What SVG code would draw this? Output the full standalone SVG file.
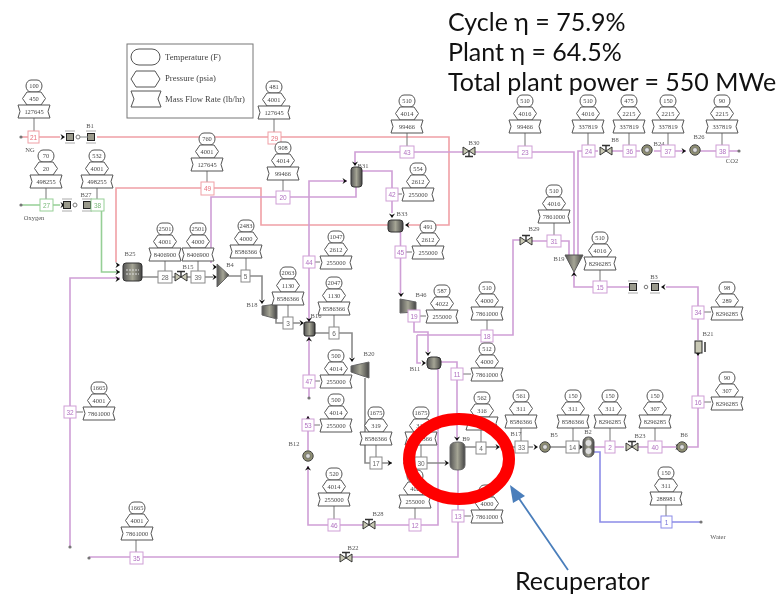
<svg xmlns="http://www.w3.org/2000/svg" width="782" height="596" viewBox="0 0 782 596">
<style>
text{font-family:"Liberation Serif",serif}
.v{font-size:6.4px;fill:#444;text-anchor:middle}
.l{font-size:6.5px;fill:#555;text-anchor:middle}
.sh{fill:#fff;stroke:#555;stroke-width:1}
.tg{fill:#fff;stroke-width:1}
.tk{font-size:6.5px;text-anchor:middle;font-family:"Liberation Sans",sans-serif}
.c{fill:none;stroke-width:1.6}
.red{stroke:#f0a0a6}.pur{stroke:#cf9fd6}.grn{stroke:#96cf96}.gry{stroke:#8a8a8a}.blu{stroke:#8c8ce8}
.st{fill:none;stroke:#777;stroke-width:1}
.big{font-family:Lato,"Open Sans",sans-serif;font-size:25px;fill:#111}
.lg{font-size:8.6px;fill:#444}
</style>
<defs>
<filter id="b" x="0" y="0" width="782" height="596" filterUnits="userSpaceOnUse"><feGaussianBlur stdDeviation="0.45"/></filter>
<linearGradient id="m"><stop offset="0" stop-color="#555"/><stop offset=".5" stop-color="#a5a595"/><stop offset="1" stop-color="#444"/></linearGradient>
<path id="t" class="sh" d="M-3,0H3A5,6 0 0 1 3,12H-3A5,6 0 0 1 -3,0Z"/>
<path id="p" class="sh" d="M-7,12H7L11.500,18.500L7,25H-7L-11.500,18.500Z"/>
<path id="f" class="sh" d="M-16,25H16L14,31.500L16,38H-16L-14,31.500Z"/>
<path id="a" fill="#111" d="M-4.500,-3L0,0L-4.500,3L-3,0Z"/>
<circle id="d" r="1.600" fill="#777"/>
<g id="bx"><rect x="-3.500" y="-3.500" width="7" height="7" fill="#9a9a8c" stroke="#222"/><path d="M-5,-6H5M-5,6H5" stroke="#aaa"/></g>
<g id="vv"><path d="M-6,-4V4L0,0ZM6,-4V4L0,0Z" fill="#c8c8b4" stroke="#222" stroke-width=".9"/><path d="M0,0V-5M-4,-5.500H4" stroke="#333" stroke-width="1.400"/></g>
<g id="cc"><circle r="5.200" fill="#8e8e72" stroke="#444"/><circle r="2.400" fill="#ddd" stroke="#555" stroke-width=".6"/></g>
</defs>

<g filter="url(#b)">
<g id="legend">
<rect x="127" y="44" width="126" height="74" fill="#fff" stroke="#777"/>
<path class="sh" d="M139,49H152A8,8 0 0 1 152,65H139A8,8 0 0 1 139,49Z"/>
<path class="sh" d="M136,71H155L160,79L155,87H136L131,79Z"/>
<path class="sh" d="M131,91H161L158,99L161,107H131L134,99Z"/>
<text class="lg" x="165" y="60">Temperature (F)</text>
<text class="lg" x="165" y="81">Pressure (psia)</text>
<text class="lg" x="165" y="102">Mass Flow Rate (lb/hr)</text>
</g>

<g id="connectors">
<path class="c red" d="M21,137H60M97,137H449V225H407M390,225H261V188H116V262"/>
<path class="c grn" d="M21,205H60M92,205H101.500V272H120"/>
<path class="c pur" d="M463,152H355V165M475,152H574V256M578,256V151H598M612,151H640M654,151H686M700,151H739M356,187V197H211V263M347,181H309V322M362,171H392V213M400.500,231V296M414,312V332H428V352M417,335V363H421M417,335H513V240H520M532,241H569V255M574,272V287H630M666,287H698V340M698,355V447H688M594,447H624M638,447H676M441,362H457V440M458,470V557H352M340,557H89M438,369V525H376M363,525H308V466M308,450V416M309,398V337M70,547V278H120"/>
<path class="c blu" d="M594,452H600V522H700"/>
<path class="c gry" d="M142,277H178M184,277H213M228,276H262V300M276,316V323H300M315,333H352V358M365,378V463H392M403,463H446M465,447H497M503,447H533M550,447H582"/>
<path class="st" d="M34,118V131M46,188V199M97,188V199M207,171V182M165,261V271M198,261V271M246,258V270M288,305V317M334,315V327M315,262H320M315,381H320M314,425H320M334,506V519M376,445V457M421,445V457M415,508V519M481,430V442M521,428V441M463,374H471M487,320V330M420,316H426M398,194H402M406,252H412M407,133V146M283,180V191M274,119V132M525,133V146M588,133V145M629,133V145M668,133V145M722,133V145M554,223V235M600,270V281M704,312H711M704,402H711M573,428V441M610,428V441M655,428V441M666,505V516M76,412H83M136,540V552M464,516H471"/>
</g>

<g id="arrowheads">
<use href="#a" transform="translate(65,137)"/><use href="#a" transform="translate(65,205)"/>
<use href="#a" transform="translate(120,265)"/><use href="#a" transform="translate(120,272)"/><use href="#a" transform="translate(120,279)"/>
<use href="#a" transform="translate(217,267)"/><use href="#a" transform="translate(217,277)"/>
<use href="#a" transform="translate(262,304) rotate(90)"/><use href="#a" transform="translate(304,323)"/>
<use href="#a" transform="translate(309,322) rotate(90)"/><use href="#a" transform="translate(309,337) rotate(-90)"/>
<use href="#a" transform="translate(352,362) rotate(90)"/><use href="#a" transform="translate(347,181)"/><use href="#a" transform="translate(355,166) rotate(90)"/>
<use href="#a" transform="translate(392,218) rotate(90)"/><use href="#a" transform="translate(405,225) rotate(180)"/>
<use href="#a" transform="translate(401,297) rotate(90)"/><use href="#a" transform="translate(428,356) rotate(90)"/><use href="#a" transform="translate(426,363)"/>
<use href="#a" transform="translate(457,441) rotate(90)"/><use href="#a" transform="translate(449,463)"/>
<use href="#a" transform="translate(392,463)"/><use href="#a" transform="translate(500,447)"/>
<use href="#a" transform="translate(538,447)"/><use href="#a" transform="translate(583,447)"/>
<use href="#a" transform="translate(680,447)"/><use href="#a" transform="translate(574,272) rotate(-90)"/>
<use href="#a" transform="translate(698,356) rotate(90)"/><use href="#a" transform="translate(308,466) rotate(-90)"/>
<use href="#a" transform="translate(308,416) rotate(-90)"/><use href="#a" transform="translate(686,151)"/>
<use href="#d" x="21" y="137"/><use href="#d" x="21" y="205"/><use href="#d" x="739" y="151"/><use href="#d" x="70" y="547"/><use href="#d" x="89" y="558"/><use href="#d" x="309" y="398"/><use href="#d" x="701" y="522"/>
</g>

<g id="B1"><use href="#bx" x="70" y="137"/><circle cx="78" cy="137" r="2" fill="#fff" stroke="#777"/><use href="#bx" x="91" y="137"/><path d="M80,137H88" stroke="#888"/><text class="l" x="90" y="128">B1</text></g>
<g id="B27"><use href="#bx" x="67" y="205"/><circle cx="75" cy="205" r="2" fill="#fff" stroke="#777"/><use href="#bx" x="87" y="205"/><text class="l" x="86" y="197">B27</text></g>
<g id="B25"><rect x="123" y="263" width="19" height="18" rx="3" fill="url(#m)" stroke="#333"/><path d="M126,270H139M126,274H139" stroke="#ddd" stroke-dasharray="2 1"/><text class="l" x="130" y="256">B25</text></g>
<g id="B15"><use href="#vv" x="181" y="277"/><text class="l" x="188" y="269">B15</text></g>
<g id="B4"><path d="M217,264L229,275L217,287Z" fill="url(#m)" stroke="#666"/><text class="l" x="230" y="267">B4</text></g>
<g id="B18"><path d="M262,306L277,304V319L262,315Z" fill="url(#m)" stroke="#666"/><text class="l" x="252" y="307">B18</text></g>
<g id="B16"><rect x="304" y="322" width="11" height="14" rx="2" fill="url(#m)" stroke="#222"/><text class="l" x="316" y="318">B16</text></g>
<g id="B20"><path d="M351,366L369,362V378L351,372Z" fill="url(#m)" stroke="#666"/><text class="l" x="369" y="356">B20</text></g>
<g id="B12"><use href="#cc" x="308" y="456"/><text class="l" x="294" y="446">B12</text></g>
<g id="B28"><use href="#vv" x="369" y="525"/><text class="l" x="378" y="516">B28</text></g>
<g id="B22"><use href="#vv" x="346" y="558"/><text class="l" x="353" y="550">B22</text></g>
<g id="B31"><rect x="351" y="167" width="11" height="20" rx="3" fill="url(#m)" stroke="#333"/><text class="l" x="363" y="168">B31</text></g>
<g id="B33"><rect x="388" y="220" width="15" height="12" rx="3" fill="url(#m)" stroke="#333"/><text class="l" x="402" y="216">B33</text></g>
<g id="B30"><use href="#vv" x="469" y="151" transform="rotate(180 469 151)"/><text class="l" x="474" y="145">B30</text></g>
<g id="B46"><path d="M400,299L416,302V312L400,313Z" fill="url(#m)" stroke="#666"/><text class="l" x="421" y="297">B46</text></g>
<g id="B11"><rect x="427" y="357" width="14" height="12" rx="4" fill="url(#m)" stroke="#333"/><text class="l" x="415" y="371">B11</text></g>
<g id="B9"><path d="M450,447Q450,442 458,442Q465,442 465,447V465Q465,470 458,470Q450,470 450,465Z" fill="url(#m)" stroke="#666"/><text class="l" x="466" y="441">B9</text></g>
<g id="B29"><use href="#vv" x="526" y="241"/><text class="l" x="534" y="231">B29</text></g>
<g id="B19"><path d="M565,255H583L574,272Z" fill="url(#m)" stroke="#555"/><text class="l" x="559" y="261">B19</text></g>
<g id="B8"><use href="#vv" x="606" y="151"/><text class="l" x="615" y="142">B8</text></g>
<g id="B24"><use href="#cc" x="647" y="150"/><text class="l" x="659" y="146">B24</text></g>
<g id="B26"><use href="#cc" x="695" y="150"/><text class="l" x="699" y="139">B26</text></g>
<g id="B3"><use href="#bx" x="633" y="287"/><circle cx="646" cy="287" r="1.800" fill="#fff" stroke="#777"/><use href="#bx" x="655" y="287"/><use href="#a" transform="translate(661,287) rotate(180)"/><text class="l" x="654" y="279">B3</text></g>
<g id="B21"><rect x="695" y="341" width="7" height="12" fill="#c8c8b4" stroke="#222"/><path d="M705,342V352" stroke="#222" stroke-width="1.400"/><text class="l" x="708" y="336">B21</text></g>
<g id="B17"><text class="l" x="516" y="436">B17</text></g>
<g id="B5"><use href="#cc" x="545" y="447"/><text class="l" x="554" y="437">B5</text></g>
<g id="B2"><rect x="583" y="437" width="11" height="20" rx="5" fill="url(#m)" stroke="#555"/><circle cx="588.500" cy="443" r="3" fill="#ddd"/><circle cx="588.500" cy="451" r="3" fill="#ddd"/><text class="l" x="588" y="434">B2</text></g>
<g id="B23"><use href="#vv" x="632" y="447"/><text class="l" x="640" y="438">B23</text></g>
<g id="B6"><use href="#cc" x="682" y="447"/><text class="l" x="684" y="437">B6</text></g>

<g id="tags">
<g class="red-tags" fill="#e8707c">
<g id="t21"><rect class="tg red" x="28" y="131" width="11" height="12"/><text class="tk" x="33.500" y="139.500">21</text></g>
<g id="t29"><rect class="tg red" x="268" y="132" width="13" height="12"/><text class="tk" x="274.500" y="140.500">29</text></g>
<g id="t49"><rect class="tg red" x="201" y="182" width="13" height="13"/><text class="tk" x="207.500" y="191">49</text></g>
</g>
<g fill="#79b979">
<g id="t27"><rect class="tg grn" x="40" y="199" width="13" height="12"/><text class="tk" x="46.500" y="207.500">27</text></g>
<g id="t38a"><rect class="tg grn" x="91" y="199" width="13" height="12"/><text class="tk" x="97.500" y="207.500">38</text></g>
</g>
<g fill="#b070c0">
<g id="t20"><rect class="tg pur" x="276" y="191" width="14" height="13"/><text class="tk" x="283" y="200">20</text></g>
<g id="t43"><rect class="tg pur" x="400" y="146" width="14" height="12"/><text class="tk" x="407" y="154.500">43</text></g>
<g id="t42"><rect class="tg pur" x="386" y="188" width="12" height="13"/><text class="tk" x="392" y="197">42</text></g>
<g id="t45"><rect class="tg pur" x="395" y="246" width="11" height="12"/><text class="tk" x="400.500" y="254.500">45</text></g>
<g id="t44"><rect class="tg pur" x="303" y="256" width="12" height="12"/><text class="tk" x="309" y="264.500">44</text></g>
<g id="t47"><rect class="tg pur" x="303" y="375" width="12" height="13"/><text class="tk" x="309" y="384">47</text></g>
<g id="t53"><rect class="tg pur" x="302" y="419" width="12" height="12"/><text class="tk" x="308" y="427.500">53</text></g>
<g id="t46"><rect class="tg pur" x="328" y="519" width="12" height="12"/><text class="tk" x="334" y="527.500">46</text></g>
<g id="t12"><rect class="tg pur" x="409" y="519" width="12" height="12"/><text class="tk" x="415" y="527.500">12</text></g>
<g id="t19"><rect class="tg pur" x="408" y="310" width="12" height="12"/><text class="tk" x="414" y="318.500">19</text></g>
<g id="t18"><rect class="tg pur" x="481" y="330" width="12" height="12"/><text class="tk" x="487" y="338.500">18</text></g>
<g id="t11"><rect class="tg pur" x="451" y="368" width="12" height="12"/><text class="tk" x="457" y="376.500">11</text></g>
<g id="t13"><rect class="tg pur" x="452" y="510" width="12" height="12"/><text class="tk" x="458" y="518.500">13</text></g>
<g id="t32"><rect class="tg pur" x="64" y="406" width="12" height="12"/><text class="tk" x="70" y="414.500">32</text></g>
<g id="t35"><rect class="tg pur" x="130" y="552" width="13" height="12"/><text class="tk" x="136.500" y="560.500">35</text></g>
<g id="t23"><rect class="tg pur" x="518" y="146" width="14" height="12"/><text class="tk" x="525" y="154.500">23</text></g>
<g id="t24"><rect class="tg pur" x="582" y="145" width="13" height="12"/><text class="tk" x="588.500" y="153.500">24</text></g>
<g id="t36"><rect class="tg pur" x="623" y="145" width="13" height="12"/><text class="tk" x="629.500" y="153.500">36</text></g>
<g id="t37"><rect class="tg pur" x="661" y="145" width="14" height="12"/><text class="tk" x="668" y="153.500">37</text></g>
<g id="t38"><rect class="tg pur" x="716" y="145" width="13" height="12"/><text class="tk" x="722.500" y="153.500">38</text></g>
<g id="t31"><rect class="tg pur" x="547" y="235" width="14" height="12"/><text class="tk" x="554" y="243.500">31</text></g>
<g id="t15"><rect class="tg pur" x="593" y="281" width="14" height="12"/><text class="tk" x="600" y="289.500">15</text></g>
<g id="t34"><rect class="tg pur" x="692" y="306" width="12" height="13"/><text class="tk" x="698" y="315">34</text></g>
<g id="t16"><rect class="tg pur" x="692" y="396" width="12" height="12"/><text class="tk" x="698" y="404.500">16</text></g>
<g id="t2"><rect class="tg pur" x="605" y="441" width="10" height="12"/><text class="tk" x="610" y="449.500">2</text></g>
<g id="t40"><rect class="tg pur" x="648" y="441" width="14" height="12"/><text class="tk" x="655" y="449.500">40</text></g>
</g>
<g fill="#666">
<g id="t28"><rect class="tg gry" x="158" y="271" width="14" height="12"/><text class="tk" x="165" y="279.500">28</text></g>
<g id="t39"><rect class="tg gry" x="191" y="271" width="14" height="12"/><text class="tk" x="198" y="279.500">39</text></g>
<g id="t5"><rect class="tg gry" x="241" y="270" width="9" height="12"/><text class="tk" x="245.500" y="278.500">5</text></g>
<g id="t3"><rect class="tg gry" x="283" y="317" width="10" height="12"/><text class="tk" x="288" y="325.500">3</text></g>
<g id="t6"><rect class="tg gry" x="329" y="327" width="10" height="12"/><text class="tk" x="334" y="335.500">6</text></g>
<g id="t17"><rect class="tg gry" x="370" y="457" width="12" height="12"/><text class="tk" x="376" y="465.500">17</text></g>
<g id="t30"><rect class="tg gry" x="415" y="457" width="12" height="12"/><text class="tk" x="421" y="465.500">30</text></g>
<g id="t4"><rect class="tg gry" x="476" y="442" width="10" height="12"/><text class="tk" x="481" y="450.500">4</text></g>
<g id="t33"><rect class="tg gry" x="515" y="441" width="13" height="12"/><text class="tk" x="521.500" y="449.500">33</text></g>
<g id="t14"><rect class="tg gry" x="566" y="441" width="13" height="12"/><text class="tk" x="572.500" y="449.500">14</text></g>
</g>
<g id="t1" fill="#7070d8"><rect class="tg blu" x="661" y="516" width="11" height="12"/><text class="tk" x="666.500" y="524.500">1</text></g>
</g>

<g id="stacks">
<g id="s21" transform="translate(34,80)"><use href="#t"/><use href="#p"/><use href="#f"/><text class="v" y="8">100</text><text class="v" y="20.500">450</text><text class="v" y="33.500">127645</text></g>
<g id="s27" transform="translate(46,150)"><use href="#t"/><use href="#p"/><use href="#f"/><text class="v" y="8">70</text><text class="v" y="20.500">20</text><text class="v" y="33.500">498255</text></g>
<g id="s38a" transform="translate(97,150)"><use href="#t"/><use href="#p"/><use href="#f"/><text class="v" y="8">532</text><text class="v" y="20.500">4001</text><text class="v" y="33.500">498255</text></g>
<g id="s49" transform="translate(207,133)"><use href="#t"/><use href="#p"/><use href="#f"/><text class="v" y="8">760</text><text class="v" y="20.500">4001</text><text class="v" y="33.500">127645</text></g>
<g id="s29" transform="translate(274,81)"><use href="#t"/><use href="#p"/><use href="#f"/><text class="v" y="8">481</text><text class="v" y="20.500">4001</text><text class="v" y="33.500">127645</text></g>
<g id="s20" transform="translate(283,142)"><use href="#t"/><use href="#p"/><use href="#f"/><text class="v" y="8">908</text><text class="v" y="20.500">4014</text><text class="v" y="33.500">99466</text></g>
<g id="s43" transform="translate(407,95)"><use href="#t"/><use href="#p"/><use href="#f"/><text class="v" y="8">510</text><text class="v" y="20.500">4014</text><text class="v" y="33.500">99466</text></g>
<g id="s42" transform="translate(418,163)"><use href="#t"/><use href="#p"/><use href="#f"/><text class="v" y="8">554</text><text class="v" y="20.500">2612</text><text class="v" y="33.500">255000</text></g>
<g id="s45" transform="translate(428,221)"><use href="#t"/><use href="#p"/><use href="#f"/><text class="v" y="8">491</text><text class="v" y="20.500">2612</text><text class="v" y="33.500">255000</text></g>
<g id="s23" transform="translate(525,95)"><use href="#t"/><use href="#p"/><use href="#f"/><text class="v" y="8">510</text><text class="v" y="20.500">4016</text><text class="v" y="33.500">99466</text></g>
<g id="s24" transform="translate(588,95)"><use href="#t"/><use href="#p"/><use href="#f"/><text class="v" y="8">510</text><text class="v" y="20.500">4016</text><text class="v" y="33.500">337819</text></g>
<g id="s36" transform="translate(629,95)"><use href="#t"/><use href="#p"/><use href="#f"/><text class="v" y="8">475</text><text class="v" y="20.500">2215</text><text class="v" y="33.500">337819</text></g>
<g id="s37" transform="translate(668,95)"><use href="#t"/><use href="#p"/><use href="#f"/><text class="v" y="8">150</text><text class="v" y="20.500">2215</text><text class="v" y="33.500">337819</text></g>
<g id="s38" transform="translate(722,95)"><use href="#t"/><use href="#p"/><use href="#f"/><text class="v" y="8">90</text><text class="v" y="20.500">2215</text><text class="v" y="33.500">337819</text></g>
<g id="s31" transform="translate(554,185)"><use href="#t"/><use href="#p"/><use href="#f"/><text class="v" y="8">510</text><text class="v" y="20.500">4016</text><text class="v" y="33.500">7861000</text></g>
<g id="s15" transform="translate(600,232)"><use href="#t"/><use href="#p"/><use href="#f"/><text class="v" y="8">510</text><text class="v" y="20.500">4016</text><text class="v" y="33.500">8296285</text></g>
<g id="s28" transform="translate(165,223)"><use href="#t"/><use href="#p"/><use href="#f"/><text class="v" y="8">2501</text><text class="v" y="20.500">4001</text><text class="v" y="33.500">8406900</text></g>
<g id="s39" transform="translate(198,223)"><use href="#t"/><use href="#p"/><use href="#f"/><text class="v" y="8">2501</text><text class="v" y="20.500">4000</text><text class="v" y="33.500">8406900</text></g>
<g id="s5" transform="translate(246,220)"><use href="#t"/><use href="#p"/><use href="#f"/><text class="v" y="8">2483</text><text class="v" y="20.500">4000</text><text class="v" y="33.500">8586366</text></g>
<g id="s3" transform="translate(288,267)"><use href="#t"/><use href="#p"/><use href="#f"/><text class="v" y="8">2063</text><text class="v" y="20.500">1130</text><text class="v" y="33.500">8586366</text></g>
<g id="s6" transform="translate(334,277)"><use href="#t"/><use href="#p"/><use href="#f"/><text class="v" y="8">2047</text><text class="v" y="20.500">1130</text><text class="v" y="33.500">8586366</text></g>
<g id="s44" transform="translate(336,231)"><use href="#t"/><use href="#p"/><use href="#f"/><text class="v" y="8">1047</text><text class="v" y="20.500">2612</text><text class="v" y="33.500">255000</text></g>
<g id="s47" transform="translate(336,350)"><use href="#t"/><use href="#p"/><use href="#f"/><text class="v" y="8">500</text><text class="v" y="20.500">4014</text><text class="v" y="33.500">255000</text></g>
<g id="s53" transform="translate(336,394)"><use href="#t"/><use href="#p"/><use href="#f"/><text class="v" y="8">500</text><text class="v" y="20.500">4014</text><text class="v" y="33.500">255000</text></g>
<g id="s46" transform="translate(334,468)"><use href="#t"/><use href="#p"/><use href="#f"/><text class="v" y="8">520</text><text class="v" y="20.500">4014</text><text class="v" y="33.500">255000</text></g>
<g id="s17" transform="translate(376,407)"><use href="#t"/><use href="#p"/><use href="#f"/><text class="v" y="8">1675</text><text class="v" y="20.500">319</text><text class="v" y="33.500">8586366</text></g>
<g id="s30" transform="translate(421,407)"><use href="#t"/><use href="#p"/><use href="#f"/><text class="v" y="8">1675</text><text class="v" y="20.500">319</text><text class="v" y="33.500">8586366</text></g>
<g id="s12" transform="translate(415,470)"><use href="#t"/><use href="#p"/><use href="#f"/><text class="v" y="20.500">402</text><text class="v" y="33.500">255000</text></g>
<g id="s19" transform="translate(442,285)"><use href="#t"/><use href="#p"/><use href="#f"/><text class="v" y="8">587</text><text class="v" y="20.500">4022</text><text class="v" y="33.500">255000</text></g>
<g id="s18" transform="translate(487,282)"><use href="#t"/><use href="#p"/><use href="#f"/><text class="v" y="8">510</text><text class="v" y="20.500">4000</text><text class="v" y="33.500">7861000</text></g>
<g id="s11" transform="translate(487,343)"><use href="#t"/><use href="#p"/><use href="#f"/><text class="v" y="8">512</text><text class="v" y="20.500">4000</text><text class="v" y="33.500">7861000</text></g>
<g id="s4" transform="translate(482,392)"><use href="#t"/><use href="#p"/><use href="#f"/><text class="v" y="8">562</text><text class="v" y="20.500">316</text></g>
<g id="s33" transform="translate(521,390)"><use href="#t"/><use href="#p"/><use href="#f"/><text class="v" y="8">561</text><text class="v" y="20.500">311</text><text class="v" y="33.500">8586366</text></g>
<g id="s13" transform="translate(487,485)"><use href="#t"/><use href="#p"/><use href="#f"/><text class="v" y="20.500">4000</text><text class="v" y="33.500">7861000</text></g>
<g id="s14" transform="translate(573,390)"><use href="#t"/><use href="#p"/><use href="#f"/><text class="v" y="8">150</text><text class="v" y="20.500">311</text><text class="v" y="33.500">8586366</text></g>
<g id="s2" transform="translate(610,390)"><use href="#t"/><use href="#p"/><use href="#f"/><text class="v" y="8">150</text><text class="v" y="20.500">311</text><text class="v" y="33.500">8296285</text></g>
<g id="s40" transform="translate(655,390)"><use href="#t"/><use href="#p"/><use href="#f"/><text class="v" y="8">150</text><text class="v" y="20.500">307</text><text class="v" y="33.500">8296285</text></g>
<g id="s34" transform="translate(727,282)"><use href="#t"/><use href="#p"/><use href="#f"/><text class="v" y="8">98</text><text class="v" y="20.500">289</text><text class="v" y="33.500">8296285</text></g>
<g id="s16" transform="translate(727,372)"><use href="#t"/><use href="#p"/><use href="#f"/><text class="v" y="8">90</text><text class="v" y="20.500">307</text><text class="v" y="33.500">8296285</text></g>
<g id="s1" transform="translate(666,467)"><use href="#t"/><use href="#p"/><use href="#f"/><text class="v" y="8">150</text><text class="v" y="20.500">311</text><text class="v" y="33.500">288981</text></g>
<g id="s32" transform="translate(99,382)"><use href="#t"/><use href="#p"/><use href="#f"/><text class="v" y="8">1665</text><text class="v" y="20.500">4001</text><text class="v" y="33.500">7861000</text></g>
<g id="s35" transform="translate(137,502)"><use href="#t"/><use href="#p"/><use href="#f"/><text class="v" y="8">1665</text><text class="v" y="20.500">4001</text><text class="v" y="33.500">7861000</text></g>
</g>

<g id="port-labels">
<text class="l" x="30" y="152">NG</text>
<text class="l" x="34" y="220">Oxygen</text>
<text class="l" x="732" y="163">CO2</text>
<text class="l" x="718" y="539">Water</text>
</g>
</g>

<g id="callout">
<ellipse cx="459" cy="459" rx="50" ry="40" fill="none" stroke="#f00" stroke-width="12"/>
<path d="M568,570L518,497" fill="none" stroke="#4a7ebb" stroke-width="1.800"/>
<path d="M510,485L525,496L513,503Z" fill="#4a7ebb"/>
<text class="big" x="515" y="590">Recuperator</text>
<text class="big" x="448" y="31">Cycle η = 75.9%</text>
<text class="big" x="448" y="61">Plant η = 64.5%</text>
<text class="big" x="448" y="91">Total plant power = 550 MWe</text>
</g>
</svg>
